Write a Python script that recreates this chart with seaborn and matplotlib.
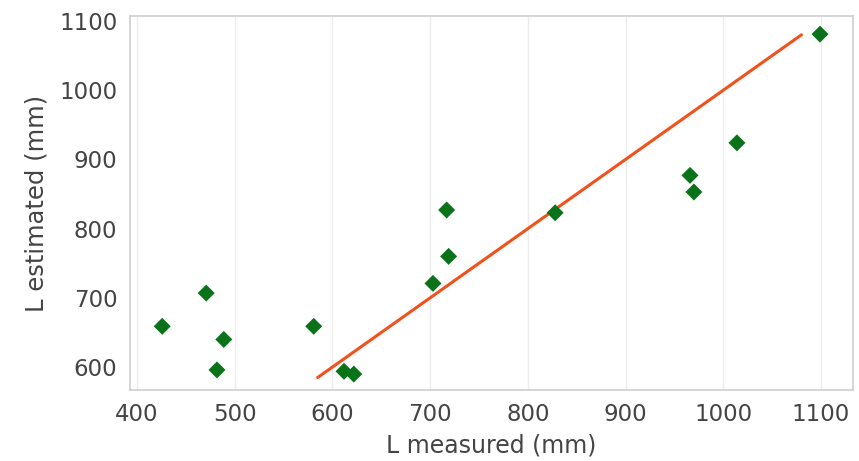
import matplotlib
matplotlib.use("Agg")
import matplotlib.pyplot as plt
import seaborn as sns
import pandas as pd

# measured vs estimated lengths (mm)
l_measured = [426, 471, 482, 489, 581, 612, 622, 703, 717, 719, 828, 966, 970, 1014, 1099]
l_estimated = [659, 707, 596, 640, 659, 594, 590, 721, 827, 760, 823, 877, 853, 924, 1081]

# reference line ends
line_x = [585, 1080]
line_y = [585, 1080]

df = pd.DataFrame({"L measured (mm)": l_measured, "L estimated (mm)": l_estimated})

sns.set_theme(style="whitegrid")
plt.rcParams['font.family'] = ['DejaVu Sans']

fig = plt.figure(figsize=(8.59, 4.61), dpi=100)
ax = fig.add_axes([0.1513, 0.154, 0.842, 0.811])

sns.lineplot(x=line_x, y=line_y, color="#f2511b", linewidth=2.2, ax=ax)
sns.scatterplot(data=df, x="L measured (mm)", y="L estimated (mm)", marker="D",
                color="#0a7319", s=75, edgecolor="none", ax=ax, zorder=3)

ax.set_xlim(393, 1133)
ax.set_ylim(567, 1107)
ax.set_xticks(range(400, 1101, 100))
ax.set_yticks(range(600, 1101, 100))
ax.grid(axis="y", visible=False)
ax.grid(axis="x", color="#ececec", linewidth=1)
for s in ax.spines.values():
    s.set_color("#d0d0d0")
ax.tick_params(labelsize=16.5, colors="#444444", pad=3)
ax.set_xlabel("L measured (mm)", fontsize=17, color="#444444", labelpad=6)
ax.set_ylabel("L estimated (mm)", fontsize=17.5, color="#444444", labelpad=8)

plt.savefig("out.png", dpi=100)
